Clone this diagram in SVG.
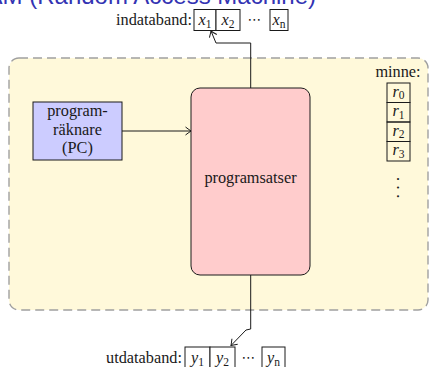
<svg xmlns="http://www.w3.org/2000/svg" width="431" height="367" viewBox="0 0 431 367">
<style>
.t{font-family:"Liberation Serif","Times New Roman",serif;font-size:16.3px;fill:#1a1a1a}
.i{font-style:italic}
.sub{font-size:11.5px;font-style:normal}
.cell{fill:#fff;stroke:#1a1a1a;stroke-width:1}
.mcell{fill:none;stroke:#1a1a1a;stroke-width:1}
.con{fill:none;stroke:#1a1a1a;stroke-width:1}
.dots{font-family:"DejaVu Sans",sans-serif;font-size:14px;fill:#1a1a1a}
</style>
<defs>
<marker id="arr" markerWidth="8" markerHeight="10" viewBox="-7 -5 8 10" refX="0" refY="0" orient="auto" markerUnits="userSpaceOnUse">
<path d="M-5.5,-4 Q-1.5,-1 0,0 Q-1.5,1 -5.5,4" fill="none" stroke="#1a1a1a" stroke-width="1"/>
</marker>
</defs>
<rect width="431" height="367" fill="#fff"/>
<text x="316" y="4" text-anchor="end" font-family="'Liberation Sans',Arial,sans-serif" font-size="24" fill="#3333B3">RAM (Random Access Machine)</text>

<g id="maskin">
<rect x="9" y="58" width="419" height="252" rx="10" fill="#FFF9DA" stroke="#A0A0A0" stroke-width="1.4" stroke-dasharray="9 5"/>
</g>

<g id="connectors">
<path class="con" d="M250.7,88 L250.7,43 L216,43 L211,31" marker-end="url(#arr)"/>
<path class="con" d="M122,131 L191,131" marker-end="url(#arr)"/>
<path class="con" d="M250.7,275 L250.7,329 L246,330 L231,345.5" marker-end="url(#arr)"/>
</g>

<g id="indataband">
<text class="t" x="192" y="25" text-anchor="end">indataband:</text>
<rect class="cell" x="194" y="9.5" width="22" height="21"/>
<rect class="cell" x="216" y="9.5" width="24" height="21"/>
<rect class="cell" x="270" y="9.5" width="18" height="21"/>
<text class="t" x="205" y="25" text-anchor="middle"><tspan class="i">x</tspan><tspan class="sub" dy="2.5">1</tspan></text>
<text class="t" x="228" y="25" text-anchor="middle"><tspan class="i">x</tspan><tspan class="sub" dy="2.5">2</tspan></text>
<text class="dots" x="254.5" y="24" text-anchor="middle">⋯</text>
<text class="t" x="279" y="25" text-anchor="middle"><tspan class="i">x</tspan><tspan class="sub i" dy="2.5">n</tspan></text>
</g>

<g id="pc">
<rect x="33" y="102" width="89" height="58" fill="#CCCCFF" stroke="#1a1a1a" stroke-width="1"/>
<text class="t" x="77.5" y="116" text-anchor="middle">program-</text>
<text class="t" x="77.5" y="135" text-anchor="middle">räknare</text>
<text class="t" x="77.5" y="153" text-anchor="middle">(PC)</text>
</g>

<g id="programsatser">
<rect x="191" y="88" width="119" height="187" rx="9" fill="#FFCCCC" stroke="#1a1a1a" stroke-width="1"/>
<text class="t" x="250.5" y="183" text-anchor="middle">programsatser</text>
</g>

<g id="minne">
<text class="t" x="398" y="77" text-anchor="middle">minne:</text>
<rect class="mcell" x="387" y="83" width="23" height="19.5"/>
<rect class="mcell" x="387" y="102.5" width="23" height="19.5"/>
<rect class="mcell" x="387" y="122" width="23" height="19.5"/>
<rect class="mcell" x="387" y="141.5" width="23" height="19.5"/>
<text class="t" x="398.5" y="96.5" text-anchor="middle"><tspan class="i">r</tspan><tspan class="sub" dy="2.5">0</tspan></text>
<text class="t" x="398.5" y="116" text-anchor="middle"><tspan class="i">r</tspan><tspan class="sub" dy="2.5">1</tspan></text>
<text class="t" x="398.5" y="135.5" text-anchor="middle"><tspan class="i">r</tspan><tspan class="sub" dy="2.5">2</tspan></text>
<text class="t" x="398.5" y="155" text-anchor="middle"><tspan class="i">r</tspan><tspan class="sub" dy="2.5">3</tspan></text>
<text class="t" x="0" y="0" letter-spacing="4.5" transform="translate(397,177) rotate(90)">...</text>
</g>

<g id="utdataband">
<text class="t" x="182" y="363" text-anchor="end">utdataband:</text>
<rect class="cell" x="185" y="347" width="25" height="22"/>
<rect class="cell" x="210" y="347" width="25" height="22"/>
<rect class="cell" x="262" y="347" width="23" height="22"/>
<text class="t" x="197.5" y="363" text-anchor="middle"><tspan class="i">y</tspan><tspan class="sub" dy="2.5">1</tspan></text>
<text class="t" x="222.5" y="363" text-anchor="middle"><tspan class="i">y</tspan><tspan class="sub" dy="2.5">2</tspan></text>
<text class="dots" x="248.5" y="362" text-anchor="middle">⋯</text>
<text class="t" x="273.5" y="363" text-anchor="middle"><tspan class="i">y</tspan><tspan class="sub i" dy="2.5">n</tspan></text>
</g>
</svg>
